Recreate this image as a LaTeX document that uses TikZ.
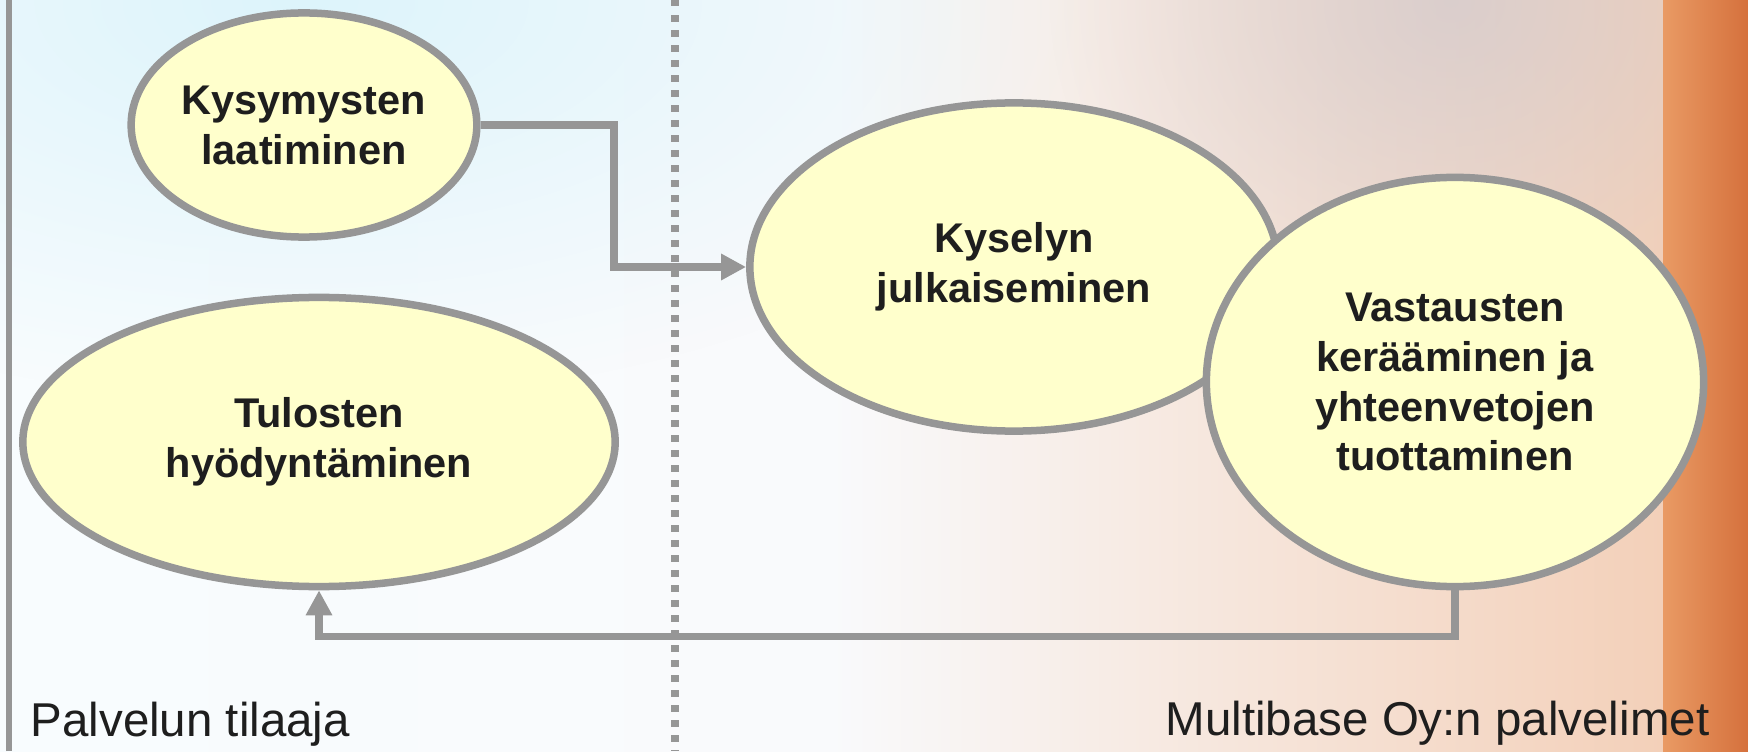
\documentclass[tikz,border=0pt]{standalone}
\usepackage{fontspec}
\setmainfont{Liberation Sans}
\usetikzlibrary{arrows.meta,shapes.geometric,fadings}
\definecolor{rajaharmaa}{HTML}{969696}
\definecolor{keltainen}{HTML}{FFFFCC}
\definecolor{tekstimusta}{HTML}{1E1E1E}
\definecolor{taustavasen}{HTML}{F8FCFE}
\definecolor{taustakeski}{HTML}{F9FAFC}
\definecolor{taustaoikea}{HTML}{F3D0B9}
\definecolor{taustasyaani}{HTML}{DDF4FB}
\definecolor{taustaharmaa}{HTML}{D4CBCD}
\definecolor{oranssivaalea}{HTML}{E99A64}
\definecolor{oranssitumma}{HTML}{D5713D}
\tikzfading[name=pehmea,inner color=transparent!0,outer color=transparent!100]
\begin{document}
\begin{tikzpicture}[x=0.01cm,y=0.01cm,align=center]
        \useasboundingbox (0,0) rectangle (1748,751);
        % tausta
        \begin{scope}
            \clip (0,0) rectangle (1748,751);
            \shade[left color=taustavasen,right color=taustaoikea,middle color=taustakeski] (0,0) rectangle (1663,751);
            \fill[taustasyaani,path fading=pehmea] (-500,350) rectangle (1100,1150);
            \fill[taustaharmaa,path fading=pehmea,opacity=0.8] (1050,400) rectangle (1850,1100);
            \shade[left color=oranssivaalea,right color=oranssitumma] (1663,0) rectangle (1748,751);
        \end{scope}
        \begin{scope}[draw=rajaharmaa]
            \draw[line width=0.065cm] (9,0)--(9,751);
            \draw[line width=0.085cm,dash pattern=on 0.065cm off 0.085cm] (675,751)--(675,0);
        \end{scope}
        \begin{scope}[every node/.style={ellipse,draw=rajaharmaa,fill=keltainen,line width=0.075cm,inner sep=0pt,text=tekstimusta,font=\bfseries\fontsize{11.8}{14.2}\selectfont}]
            \node[minimum width=3.45cm,minimum height=2.24cm] (laat) at (304,626) {Kysymysten\\laatiminen};
            \node[minimum width=5.92cm,minimum height=2.89cm] (hyod) at (319,309) {Tulosten\\hyödyntäminen};
            \node[minimum width=5.28cm,minimum height=3.28cm] (julk) at (1014,484) {Kyselyn\\julkaiseminen};
            \node[minimum width=4.97cm,minimum height=4.09cm] (ker)  at (1455,369) {Vastausten\\kerääminen ja\\yhteenvetojen\\tuottaminen};
        \end{scope}
        \coordinate (kaanne) at (614,484);
        \begin{scope}[line width=0.075cm,draw=rajaharmaa,-{Triangle[length=0.25cm,width=0.25cm]}]
            \draw (laat.east) -| (kaanne) -- (julk.west);
            \draw (ker.south) -- ++(0,-46) -| (hyod.south);
        \end{scope}
        \begin{scope}[every node/.style={inner sep=0pt,text=tekstimusta,font=\fontsize{13.5}{16}\selectfont}]
            \node[anchor=base west] (tilaaja)  at (30,15)   {Palvelun tilaaja};
            \node[anchor=base east] (palvelin) at (1710,16) {Multibase Oy:n palvelimet};
        \end{scope}
    \end{tikzpicture}
\end{document}
